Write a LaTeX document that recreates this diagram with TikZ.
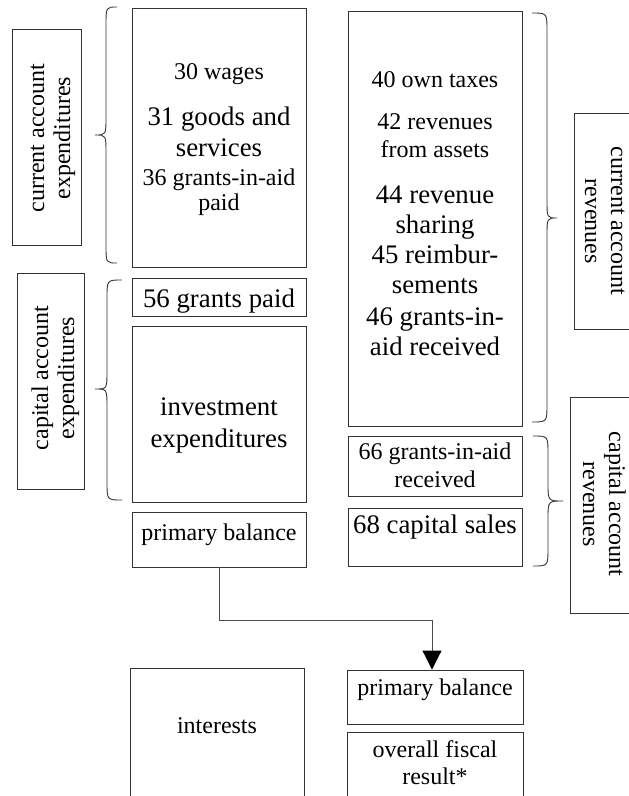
\documentclass[tikz,border=0pt]{standalone}
\usepackage{fontspec}
\setmainfont{Liberation Serif}
\usetikzlibrary{arrows.meta}
\tikzset{
  box/.style={draw=black!80, line width=0.9pt, inner sep=0pt, rectangle},
  sm/.style={font=\fontsize{24}{28}\selectfont, anchor=base, inner sep=0pt},
  bg/.style={font=\fontsize{26.8}{31}\selectfont, anchor=base, inner sep=0pt},
  brace/.style={draw=black!80, line width=0.9pt},
  conn/.style={draw=black!70, line width=0.9pt, -{Triangle[width=19pt,length=19pt,black]}}
}
\begin{document}
\begin{tikzpicture}[x=1pt,y=-1pt]
\useasboundingbox (0,0) rectangle (629,796);
\clip (0,0) rectangle (629,796);
% boxes
\node[box, minimum width=69pt, minimum height=216pt] (cae) at (46.5,137) {};
\node[box, minimum width=67pt, minimum height=216pt] (cape) at (50.5,381) {};
\node[box, minimum width=174pt, minimum height=259pt] (wages) at (219,137.5) {};
\node[box, minimum width=174pt, minimum height=38pt] (g56) at (219,297) {};
\node[box, minimum width=174pt, minimum height=176pt] (inv) at (219,414) {};
\node[box, minimum width=174pt, minimum height=55pt] (pb1) at (219,539.5) {};
\node[box, minimum width=174pt, minimum height=415pt] (own) at (435,218.5) {};
\node[box, minimum width=69pt, minimum height=216pt] (car) at (608.5,221) {};
\node[box, minimum width=174pt, minimum height=60pt] (g66) at (435,466) {};
\node[box, minimum width=174pt, minimum height=58pt] (s68) at (435,537) {};
\node[box, minimum width=70pt, minimum height=216pt] (crv) at (605,505) {};
\node[box, minimum width=174pt, minimum height=162pt] (int) at (217,749) {};
\node[box, minimum width=176pt, minimum height=54pt] (pb2) at (435,697) {};
\node[box, minimum width=176pt, minimum height=98pt] (ofr) at (435,781) {};
% rotated labels
\node[sm, rotate=90] (cae1) at (44,138) {current account};
\node[sm, rotate=90] (cae2) at (70,138) {expenditures};
\node[sm, rotate=90] (cape1) at (48,378) {capital account};
\node[sm, rotate=90] (cape2) at (74,378) {expenditures};
\node[sm, rotate=-90] (car1) at (611,221) {current account};
\node[sm, rotate=-90] (car2) at (585,221) {revenues};
\node[sm, rotate=-90] (crv1) at (609,504) {capital account};
\node[sm, rotate=-90] (crv2) at (583,504) {revenues};
% left column text
\node[sm] (t30) at (219,79) {30 wages};
\node[bg] (t31a) at (219,125) {31 goods and};
\node[bg] (t31b) at (219,156) {services};
\node[sm] (t36a) at (219,185) {36 grants-in-aid};
\node[sm] (t36b) at (219,210) {paid};
\node[bg] (t56) at (219,307) {56 grants paid};
\node[bg] (tinva) at (219,415) {investment};
\node[bg] (tinvb) at (219,447) {expenditures};
\node[sm] (tpb1) at (219,540) {primary balance};
% right column text
\node[sm] (t40) at (435,87) {40 own taxes};
\node[sm] (t42a) at (435,129) {42 revenues};
\node[sm] (t42b) at (435,157) {from assets};
\node[bg] (t44a) at (435,203) {44 revenue};
\node[bg] (t44b) at (435,233) {sharing};
\node[bg] (t45a) at (435,263) {45 reimbur-};
\node[bg] (t45b) at (435,293) {sements};
\node[bg] (t46a) at (435,325) {46 grants-in-};
\node[bg] (t46b) at (435,355) {aid received};
\node[sm] (t66a) at (435,459) {66 grants-in-aid};
\node[sm] (t66b) at (435,487) {received};
\node[bg] (t68) at (435,533) {68 capital sales};
% bottom text
\node[sm] (tint) at (217,733) {interests};
\node[sm] (tpb2) at (435,695) {primary balance};
\node[sm] (tofa) at (435,757) {overall fiscal};
\node[sm] (tofb) at (435,784) {result*};
% braces
\draw[brace] (117,7) .. controls (106,7) .. (106,25) -- (106,117) .. controls (106,135) .. (95,135)
  .. controls (106,135) .. (106,153) -- (106,245) .. controls (106,263) .. (117,263);
\draw[brace] (122,280) .. controls (107,280) .. (107,298) -- (107,371) .. controls (107,389) .. (95,389)
  .. controls (107,389) .. (107,407) -- (107,482) .. controls (107,500) .. (122,500);
\draw[brace] (532,13) .. controls (547,13) .. (547,31) -- (547,200) .. controls (547,218) .. (557,218)
  .. controls (547,218) .. (547,236) -- (547,404) .. controls (547,422) .. (532,422);
\draw[brace] (533,436) .. controls (548,436) .. (548,454) -- (548,483) .. controls (548,501) .. (563,501)
  .. controls (548,501) .. (548,519) -- (548,548) .. controls (548,566) .. (533,566);
% connector
\coordinate (elbow) at (432,620);
\draw[conn] (pb1.south) |- (elbow) -- (elbow |- pb2.north);
\end{tikzpicture}
\end{document}
